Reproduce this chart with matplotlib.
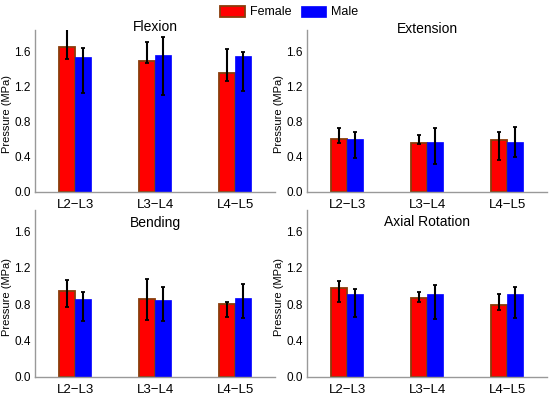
import matplotlib
matplotlib.use("Agg")
import matplotlib.pyplot as plt
import numpy as np

plt.rcParams['font.family'] = ['Liberation Sans', 'DejaVu Sans']

categories = ["L2\u2212L3", "L3\u2212L4", "L4\u2212L5"]
series = ["Female", "Male"]
titles = ["Flexion", "Extension", "Bending", "Axial Rotation"]

# mean, upper end of error bar, lower end of error bar
flex_f = [1.65, 1.49, 1.35]
flex_f_hi = [1.85, 1.70, 1.62]
flex_f_lo = [1.51, 1.46, 1.26]
flex_m = [1.53, 1.55, 1.54]
flex_m_hi = [1.63, 1.76, 1.59]
flex_m_lo = [1.12, 1.10, 1.15]

ext_f = [0.60, 0.555, 0.59]
ext_f_hi = [0.72, 0.64, 0.68]
ext_f_lo = [0.55, 0.54, 0.36]
ext_m = [0.595, 0.56, 0.56]
ext_m_hi = [0.68, 0.73, 0.74]
ext_m_lo = [0.38, 0.32, 0.39]

bend_f = [0.95, 0.86, 0.80]
bend_f_hi = [1.07, 1.075, 0.83]
bend_f_lo = [0.77, 0.63, 0.66]
bend_m = [0.86, 0.85, 0.87]
bend_m_hi = [0.93, 0.99, 1.02]
bend_m_lo = [0.62, 0.61, 0.645]

rot_f = [0.975, 0.87, 0.79]
rot_f_hi = [1.06, 0.94, 0.91]
rot_f_lo = [0.83, 0.82, 0.74]
rot_m = [0.91, 0.91, 0.91]
rot_m_hi = [0.965, 1.015, 0.985]
rot_m_lo = [0.655, 0.64, 0.645]

yticks = [0.0, 0.4, 0.8, 1.2, 1.6]

panels = [
    (flex_f, flex_f_hi, flex_f_lo, flex_m, flex_m_hi, flex_m_lo),
    (ext_f, ext_f_hi, ext_f_lo, ext_m, ext_m_hi, ext_m_lo),
    (bend_f, bend_f_hi, bend_f_lo, bend_m, bend_m_hi, bend_m_lo),
    (rot_f, rot_f_hi, rot_f_lo, rot_m, rot_m_hi, rot_m_lo),
]

W, H = 550, 398
fig = plt.figure(figsize=(W / 100, H / 100), dpi=100)

# axes rectangles in pixels: left, top(y of ylim max), right, bottom(y of 0)
rects = [
    (35, 30, 275, 191.7),
    (307, 30, 547, 191.7),
    (35, 210, 275, 376.7),
    (307, 210, 547, 376.7),
]
title_y = [26.7, 29.3, 223.3, 222.3]

x = np.arange(len(categories))
bw = 0.2
red = "#ff0000"
brown = "#8a3c0a"
blue = "#0000ff"
spine_c = "#999999"

handles = None
for i, (ax_r, data, title) in enumerate(zip(rects, panels, titles)):
    l, t, r, b = ax_r
    ax = fig.add_axes([l / W, (H - b) / H, (r - l) / W, (b - t) / H])
    f, fhi, flo, m, mhi, mlo = [np.array(v) for v in data]
    bf = ax.bar(x - bw / 2, f, bw, color=red, edgecolor=brown, linewidth=1.3,
                label=series[0], zorder=2)
    bm = ax.bar(x + bw / 2, m, bw, color=blue, edgecolor=blue, linewidth=0.5,
                label=series[1], zorder=2)
    ax.errorbar(x - bw / 2, f, yerr=[f - flo, fhi - f], fmt='none', ecolor='black',
                elinewidth=1.5, capsize=1.5, capthick=1.3, zorder=3)
    ax.errorbar(x + bw / 2, m, yerr=[m - mlo, mhi - m], fmt='none', ecolor='black',
                elinewidth=1.5, capsize=1.5, capthick=1.3, zorder=3)
    ax.set_xlim(-0.5, 2.5)
    ax.set_ylim(0, 1.84)
    ax.set_xticks(x)
    ax.set_xticklabels(categories, fontsize=9.5)
    ax.set_yticks(yticks)
    ax.set_yticklabels([f"{v:.1f}" for v in yticks], fontsize=8.5)
    ax.tick_params(axis='x', length=0, pad=5)
    ax.tick_params(axis='y', length=0, pad=3)
    ax.set_ylabel("Pressure (MPa)", fontsize=8)
    ax.yaxis.set_label_coords(-23 / (r - l), 0.48)
    for s in ['top', 'right']:
        ax.spines[s].set_visible(False)
    for s in ['left', 'bottom']:
        ax.spines[s].set_color(spine_c)
        ax.spines[s].set_linewidth(1.0)
    fig.text((l + r) / 2 / W, (H - title_y[i]) / H, title,
             ha='center', va='center', fontsize=10)
    if handles is None:
        handles = [bf, bm]

fig.legend(handles, series, loc='center', bbox_to_anchor=(289 / W, (H - 12) / H),
           ncol=2, frameon=False, fontsize=9, handlelength=2.0, handleheight=1.0,
           columnspacing=0.8, handletextpad=0.35, borderpad=0.0)

fig.savefig("out.png", dpi=100)
